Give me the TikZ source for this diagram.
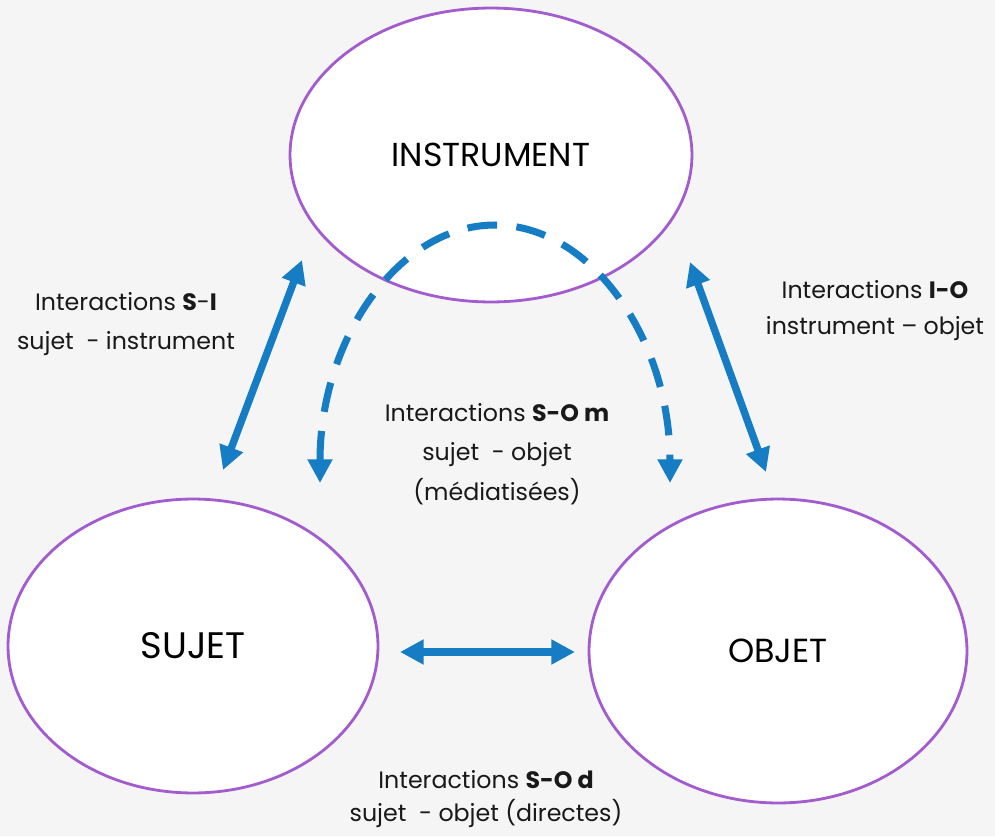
\documentclass[tikz,border=0pt]{standalone}
\usepackage{fontspec}
\setmainfont{Poppins}
\usepackage{tikz}
\usetikzlibrary{arrows.meta,shapes}
\definecolor{bggray}{RGB}{245,245,245}
\definecolor{lilac}{RGB}{163,92,206}
\definecolor{linkblue}{RGB}{22,125,197}
\tikzstyle{pole}=[ellipse,draw=lilac,line width=1.6pt,fill=white,inner sep=0pt]
\tikzstyle{link}=[draw=linkblue,line width=4.2pt,>={Triangle[length=13.5pt,width=13.5pt]},<->]
\tikzstyle{mlink}=[link,line width=4pt,dash pattern=on 17pt off 11pt]
\tikzstyle{lbl}=[align=center,text=black!90,font=\fontsize{13.5}{22.5}\selectfont]

\begin{document}
\begin{tikzpicture}[x=0.02cm,y=-0.02cm]
    % Background of the slide
    \fill[bggray] (0,0) rectangle (995,836);
    \useasboundingbox (0,0) rectangle (995,836);

    % First we draw the three poles
    \node[pole,minimum width=8.04cm,minimum height=5.88cm,font=\fontsize{18.9}{22}\selectfont] (inst) at (491,155) {INSTRUMENT};
    \node[pole,minimum width=7.4cm,minimum height=5.88cm,font=\fontsize{21}{24}\selectfont] (sujet) at (193,646) {SUJET};
    \node[pole,minimum width=7.56cm,minimum height=6.08cm,font=\fontsize{19}{22}\selectfont] (objet) at (778,651) {OBJET};

    % Ends of the arrows
    \foreach \pos/\name in {{(223,470)/si-s}, {(302,260)/si-i}, {(690,262)/io-i}, {(766,472)/io-o}, {(400,652)/sod-s}, {(575,652)/sod-o}, {(320,483)/som-s}, {(495,225)/som-t}, {(670,483)/som-o}}
        \node[coordinate] (\name) at \pos {};

    % Direct interactions
    \foreach \source/ \dest in {si-s/si-i, io-i/io-o, sod-s/sod-o}
        \path[link] (\source) -- (\dest);

    % Mediated interaction, through the instrument
    \path[mlink] (som-s) .. controls (320,340) and (398,225) .. (som-t) .. controls (592,225) and (670,340) .. (som-o);

    % Labels
    \node[lbl] (si) at (126,324) {Interactions \textbf{S}-\textbf{I}\\sujet\ \ - instrument};
    \node[lbl,font=\fontsize{13.5}{20.5}\selectfont] (io) at (875,311) {Interactions \textbf{I-O}\\instrument – objet};
    \node[lbl] (som) at (497,454) {Interactions \textbf{S-O m}\\sujet\ \ - objet\\(médiatisées)};
    \node[lbl,font=\fontsize{13.5}{19}\selectfont] (sod) at (486,799) {Interactions \textbf{S-O d}\\sujet\ \ - objet (directes)};
\end{tikzpicture}
\end{document}
